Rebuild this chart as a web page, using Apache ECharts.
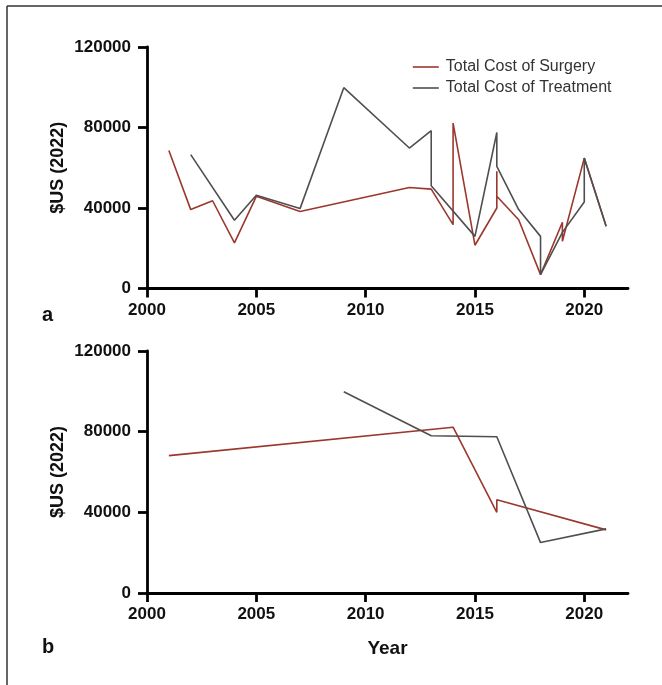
<!DOCTYPE html>
<html>
<head>
<meta charset="utf-8">
<script src="https://cdn.jsdelivr.net/npm/echarts@6/dist/echarts.min.js"></script>
<style>
  html, body { margin: 0; padding: 0; background: #ffffff; }
  #chart { width: 662px; height: 685px; }
</style>
</head>
<body>
<div id="chart"></div>
<script>
// Panel a: yearly cost records
const surgeryYearsA = [2001, 2002, 2003, 2004, 2005, 2007, 2012, 2013, 2014, 2014, 2015, 2016, 2016, 2016, 2017, 2018, 2019, 2019, 2020, 2021];
const surgeryCostA  = [68600, 39200, 43600, 22700, 45800, 38300, 50200, 49400, 31700, 82200, 21500, 40000, 58200, 45800, 34200, 6900, 32900, 23500, 64800, 30900];
const treatmentYearsA = [2002, 2004, 2005, 2007, 2009, 2012, 2013, 2013, 2015, 2016, 2016, 2017, 2018, 2018, 2019, 2020, 2020, 2021];
const treatmentCostA  = [66500, 33900, 46300, 39700, 99800, 69800, 78400, 51100, 25900, 77500, 60700, 39200, 25900, 6900, 27900, 43000, 64800, 30900];

// Panel b: reduced cost series
const surgeryYearsB = [2001, 2014, 2016, 2016, 2021];
const surgeryCostB  = [68100, 82200, 40000, 46200, 31300];
const treatmentYearsB = [2009, 2013, 2016, 2018, 2021];
const treatmentCostB  = [99800, 78000, 77500, 25000, 31800];

const yearTicks = [2000, 2005, 2010, 2015, 2020];
const seriesNames = ['Total Cost of Surgery', 'Total Cost of Treatment'];
const yAxisTitle = '$US (2022)';
const xAxisTitle = 'Year';
const panelLetters = ['a', 'b'];

const RED = '#9b382d';
const GRAY = '#4f4f4f';
const FONT = 'Liberation Sans, Arial, Helvetica, sans-serif';

const zip = (xs, ys) => xs.map((x, i) => [x, ys[i]]);

function makeX(gridIndex, withName) {
  const ax = {
    type: 'value', gridIndex: gridIndex,
    min: 2000, max: 2022, interval: 5,
    axisLine: { show: true, onZero: false, lineStyle: { color: '#000', width: 2.8 } },
    axisTick: { show: true, length: 9, lineStyle: { color: '#000', width: 2.8 }, customValues: yearTicks },
    axisLabel: { customValues: yearTicks, margin: 13, color: '#111', fontFamily: FONT, fontWeight: 'bold', fontSize: 17,
                 formatter: v => String(v) },
    splitLine: { show: false }
  };
  if (withName) {
    ax.name = xAxisTitle;
    ax.nameLocation = 'middle';
    ax.nameGap = 46;
    ax.nameMoveOverlap = false;
    ax.nameTextStyle = { color: '#111', fontFamily: FONT, fontWeight: 'bold', fontSize: 19 };
  }
  return ax;
}

function makeY(gridIndex) {
  return {
    type: 'value', gridIndex: gridIndex,
    min: 0, max: 120000, interval: 40000,
    name: yAxisTitle, nameLocation: 'middle', nameGap: 80, nameMoveOverlap: false,
    nameTextStyle: { color: '#111', fontFamily: FONT, fontWeight: 'bold', fontSize: 18 },
    axisLine: { show: true, lineStyle: { color: '#000', width: 2.8 } },
    axisTick: { show: true, length: 9, lineStyle: { color: '#000', width: 2.8 } },
    axisLabel: { margin: 16, color: '#111', fontFamily: FONT, fontWeight: 'bold', fontSize: 17,
                 formatter: v => String(v) },
    splitLine: { show: false }
  };
}

function line(name, data, color, idx) {
  return {
    name: name, type: 'line', data: data,
    xAxisIndex: idx, yAxisIndex: idx,
    symbol: 'none', showSymbol: false, animation: false,
    lineStyle: { color: color, width: 1.6 },
    itemStyle: { color: color }
  };
}

const chart = echarts.init(document.getElementById('chart'), null, { renderer: 'canvas' });
chart.setOption({
  backgroundColor: '#ffffff',
  animation: false,
  grid: [
    { left: 147, top: 47, width: 481, height: 241.5 },
    { left: 147, top: 351, width: 481, height: 242 }
  ],
  legend: {
    data: seriesNames,
    orient: 'vertical',
    left: 412, top: 59, padding: 0,
    itemWidth: 26, itemHeight: 16, itemGap: 5,
    itemStyle: { opacity: 0 },
    lineStyle: { width: 1.6 },
    textStyle: { color: '#333', fontFamily: FONT, fontSize: 16, padding: [0, 0, 0, 2] }
  },
  xAxis: [makeX(0, false), makeX(1, true)],
  yAxis: [makeY(0), makeY(1)],
  series: [
    line(seriesNames[0], zip(surgeryYearsA, surgeryCostA), RED, 0),
    line(seriesNames[1], zip(treatmentYearsA, treatmentCostA), GRAY, 0),
    line(seriesNames[0], zip(surgeryYearsB, surgeryCostB), RED, 1),
    line(seriesNames[1], zip(treatmentYearsB, treatmentCostB), GRAY, 1)
  ],
  graphic: [
    { type: 'line', shape: { x1: 7, y1: 6, x2: 662, y2: 6 }, style: { stroke: '#333', lineWidth: 1.5 } },
    { type: 'line', shape: { x1: 7, y1: 6, x2: 7, y2: 685 }, style: { stroke: '#333', lineWidth: 1.5 } },
    { type: 'text', left: 42, top: 305, style: { text: panelLetters[0], fill: '#111', font: 'bold 20px ' + FONT } },
    { type: 'text', left: 42, top: 637, style: { text: panelLetters[1], fill: '#111', font: 'bold 20px ' + FONT } }
  ]
});
</script>
</body>
</html>
